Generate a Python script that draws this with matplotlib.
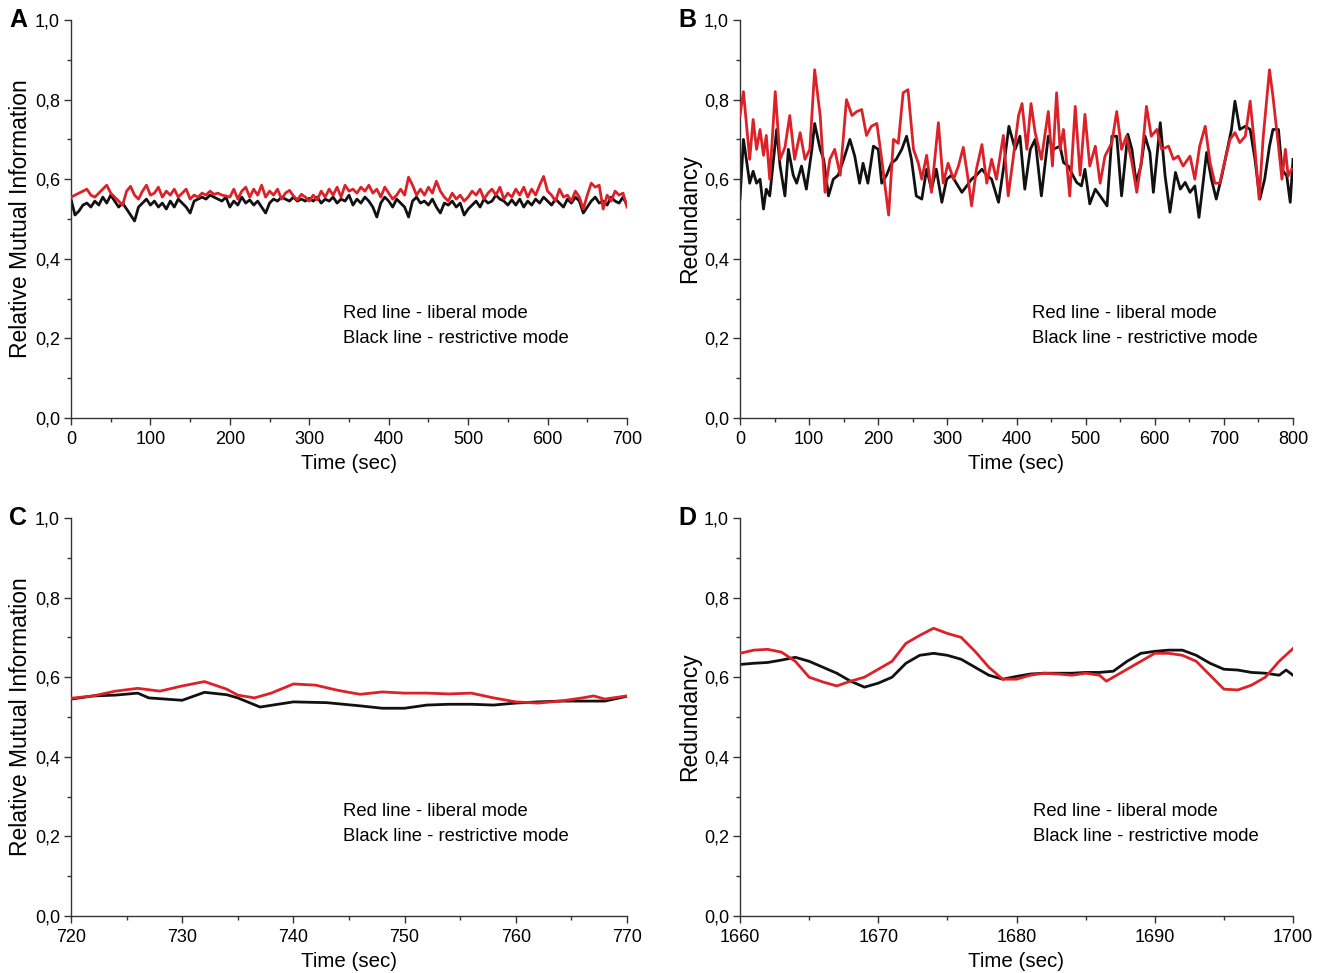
import numpy as np
import matplotlib
matplotlib.use("Agg")
import matplotlib.pyplot as plt
from matplotlib.ticker import MultipleLocator, FuncFormatter

plt.rcParams['font.family'] = ['Liberation Sans', 'DejaVu Sans']

# ---------------- Panel A data (0-700 s, step 5) ----------------
a_time = list(range(0, 705, 5))
a_red = [555, 560, 565, 570, 575, 560, 555, 565, 575, 585, 565, 555, 545, 535, 570, 582, 560, 550, 570, 585,
         560, 565, 580, 555, 570, 560, 575, 555, 565, 575, 550, 560, 555, 565, 560, 570, 562, 565, 560, 558,
         555, 575, 550, 570, 580, 555, 575, 560, 585, 555, 570, 560, 575, 550, 565, 572, 558, 548, 562, 555,
         545, 560, 548, 570, 555, 575, 560, 580, 555, 585, 570, 575, 565, 580, 570, 585, 565, 575, 555, 580,
         565, 550, 560, 575, 560, 605, 585, 560, 575, 560, 580, 565, 595, 570, 555, 545, 565, 550, 560, 545,
         555, 570, 560, 575, 550, 565, 575, 560, 580, 550, 565, 555, 575, 560, 580, 555, 575, 560, 585, 607,
         570, 560, 545, 575, 555, 560, 545, 570, 555, 525, 560, 590, 580, 585, 525, 560, 545, 570, 560, 565,
         530]
a_black = [550, 510, 520, 535, 540, 530, 545, 535, 555, 540, 560, 545, 530, 540, 525, 510, 495, 530, 540, 550,
           535, 545, 530, 540, 525, 545, 530, 550, 540, 530, 515, 545, 550, 555, 550, 560, 555, 550, 545, 555,
           530, 545, 535, 555, 540, 548, 535, 545, 530, 515, 540, 550, 545, 555, 550, 545, 555, 545, 550, 545,
           552, 545, 555, 540, 550, 545, 555, 540, 550, 545, 560, 535, 550, 540, 555, 545, 530, 505, 540, 555,
           545, 530, 550, 540, 530, 505, 545, 555, 540, 545, 535, 550, 530, 515, 540, 535, 545, 530, 540, 510,
           525, 535, 545, 530, 550, 540, 545, 560, 550, 545, 535, 548, 535, 550, 530, 545, 535, 550, 540, 555,
           545, 535, 550, 540, 530, 550, 540, 555, 545, 515, 530, 545, 555, 540, 545, 535, 555, 545, 540, 555,
           535]

# ---------------- Panel B data (0-800 s) ----------------
b_red_time = [0, 5, 14, 19, 24, 29, 34, 38, 43, 51, 58, 65, 72, 79, 87, 94, 101, 108, 116, 123,
              130, 137, 145, 154, 162, 169, 176, 183, 190, 198, 205, 215, 222, 229, 236, 243, 251, 258, 263, 270,
              277, 287, 294, 301, 309, 316, 323, 330, 335, 342, 350, 357, 364, 371, 381, 388, 395, 403, 408, 415,
              421, 427, 436, 446, 452, 458, 463, 468, 477, 485, 492, 499, 506, 514, 521, 528, 538, 545, 552, 559,
              567, 574, 581, 588, 595, 603, 610, 620, 627, 634, 641, 651, 658, 665, 673, 680, 687, 694, 702, 709,
              716, 723, 731, 738, 745, 751, 757, 766, 771, 779, 784, 789, 793, 798]
b_red = [0.76, 0.82, 0.65, 0.75, 0.675, 0.725, 0.66, 0.71, 0.60, 0.82, 0.65, 0.68, 0.76, 0.65, 0.717, 0.65, 0.675, 0.875, 0.76, 0.567,
         0.65, 0.675, 0.61, 0.80, 0.76, 0.77, 0.775, 0.71, 0.733, 0.74, 0.65, 0.51, 0.70, 0.69, 0.817, 0.825, 0.675, 0.64, 0.60, 0.66,
         0.567, 0.742, 0.59, 0.64, 0.60, 0.633, 0.68, 0.60, 0.533, 0.625, 0.687, 0.59, 0.65, 0.60, 0.71, 0.558, 0.65, 0.76, 0.79, 0.675,
         0.79, 0.717, 0.65, 0.77, 0.633, 0.817, 0.675, 0.725, 0.558, 0.783, 0.61, 0.763, 0.633, 0.683, 0.59, 0.658, 0.692, 0.77, 0.675, 0.708,
         0.642, 0.567, 0.65, 0.783, 0.708, 0.725, 0.675, 0.683, 0.65, 0.658, 0.633, 0.658, 0.60, 0.683, 0.733, 0.642, 0.59, 0.59, 0.65, 0.70,
         0.717, 0.692, 0.708, 0.796, 0.675, 0.55, 0.708, 0.875, 0.808, 0.683, 0.60, 0.675, 0.608, 0.625]
b_black_time = [0, 5, 10, 14, 19, 24, 29, 34, 38, 43, 53, 58, 65, 70, 77, 82, 89, 96, 104, 108,
                116, 121, 128, 135, 142, 150, 159, 166, 173, 178, 185, 193, 200, 205, 212, 219, 226, 234, 241, 248,
                255, 263, 270, 277, 284, 292, 299, 306, 313, 321, 328, 335, 342, 350, 357, 364, 374, 381, 389, 398,
                405, 412, 420, 427, 436, 446, 453, 463, 468, 475, 482, 487, 494, 499, 506, 514, 521, 531, 538, 545,
                552, 561, 567, 573, 580, 586, 593, 598, 608, 615, 622, 630, 637, 644, 651, 658, 664, 670, 675, 682,
                689, 697, 704, 711, 716, 723, 731, 738, 745, 752, 759, 766, 771, 779, 784, 791, 796, 800]
b_black = [0.55, 0.70, 0.64, 0.59, 0.62, 0.59, 0.60, 0.525, 0.575, 0.558, 0.725, 0.633, 0.558, 0.675, 0.61, 0.59, 0.633, 0.575, 0.675, 0.74,
           0.675, 0.65, 0.558, 0.60, 0.61, 0.65, 0.70, 0.658, 0.59, 0.64, 0.59, 0.683, 0.675, 0.59, 0.61, 0.64, 0.65, 0.675, 0.708, 0.65,
           0.558, 0.55, 0.625, 0.575, 0.625, 0.542, 0.60, 0.61, 0.59, 0.567, 0.583, 0.60, 0.61, 0.625, 0.61, 0.60, 0.542, 0.625, 0.733, 0.675,
           0.708, 0.575, 0.675, 0.70, 0.558, 0.708, 0.675, 0.683, 0.642, 0.633, 0.608, 0.592, 0.583, 0.625, 0.538, 0.575, 0.558, 0.533, 0.708, 0.708,
           0.558, 0.713, 0.675, 0.592, 0.633, 0.708, 0.667, 0.567, 0.742, 0.608, 0.517, 0.617, 0.575, 0.592, 0.567, 0.583, 0.504, 0.592, 0.667, 0.60,
           0.55, 0.608, 0.667, 0.725, 0.796, 0.725, 0.733, 0.725, 0.65, 0.55, 0.60, 0.683, 0.725, 0.725, 0.625, 0.608, 0.542, 0.65]

# ---------------- Panel C data (720-770 s) ----------------
c_red_time = [720, 722, 724, 726, 728, 730, 732, 734, 735, 736.5, 738, 740, 742, 744, 746, 748, 750, 752, 754, 756,
              758, 760, 762, 764, 766, 767, 768, 770]
c_red = [0.547, 0.553, 0.565, 0.572, 0.565, 0.578, 0.589, 0.570, 0.555, 0.548, 0.560, 0.583, 0.580, 0.567, 0.557, 0.563,
         0.560, 0.560, 0.558, 0.560, 0.548, 0.538, 0.535, 0.540, 0.548, 0.553, 0.545, 0.553]
c_black_time = [720, 722, 724, 726, 727, 730, 732, 734, 735, 737, 740, 743, 746, 748, 750, 752, 754, 756, 758, 760,
                762, 764, 766, 768, 770]
c_black = [0.545, 0.553, 0.555, 0.560, 0.548, 0.542, 0.562, 0.556, 0.548, 0.525, 0.538, 0.536, 0.528, 0.522, 0.522,
           0.530, 0.532, 0.532, 0.530, 0.535, 0.538, 0.540, 0.540, 0.540, 0.552]

# ---------------- Panel D data (1660-1700 s) ----------------
d_red_time = [1660, 1661, 1662, 1663, 1664, 1665, 1666, 1667, 1668, 1669, 1670, 1671, 1672, 1673, 1674, 1675, 1676, 1677,
              1678, 1679, 1680, 1681, 1682, 1683, 1684, 1685, 1686, 1686.5, 1687, 1688, 1689, 1690, 1691, 1692, 1693,
              1694, 1695, 1696, 1697, 1698, 1699, 1700]
d_red = [0.660, 0.668, 0.670, 0.663, 0.640, 0.600, 0.588, 0.578, 0.590, 0.600, 0.620, 0.640, 0.685, 0.705, 0.723, 0.710,
         0.700, 0.665, 0.625, 0.595, 0.595, 0.605, 0.610, 0.608, 0.605, 0.610, 0.605, 0.590, 0.600, 0.620, 0.640, 0.660,
         0.660, 0.655, 0.640, 0.605, 0.570, 0.568, 0.580, 0.600, 0.640, 0.672]
d_black_time = [1660, 1661, 1662, 1663, 1664, 1665, 1666, 1667, 1668, 1669, 1670, 1671, 1672, 1673, 1674, 1675, 1676,
                1677, 1678, 1679, 1680, 1681, 1682, 1683, 1684, 1685, 1686, 1687, 1688, 1689, 1690, 1691, 1692, 1693,
                1694, 1695, 1696, 1697, 1698, 1699, 1699.5, 1700]
d_black = [0.632, 0.635, 0.637, 0.643, 0.650, 0.640, 0.625, 0.610, 0.590, 0.575, 0.585, 0.600, 0.635, 0.655, 0.660,
           0.655, 0.645, 0.625, 0.605, 0.595, 0.602, 0.608, 0.610, 0.610, 0.610, 0.612, 0.612, 0.615, 0.640, 0.660,
           0.665, 0.668, 0.668, 0.655, 0.635, 0.620, 0.618, 0.612, 0.610, 0.605, 0.618, 0.605]

RED = '#dc2228'
BLACK = '#111111'

fig = plt.figure(figsize=(13.2, 9.73), dpi=100)

W, H = 1320, 973
def ax_at(x0, x1, ytop, ybot):
    return fig.add_axes([x0 / W, 1 - ybot / H, (x1 - x0) / W, (ybot - ytop) / H])

comma = FuncFormatter(lambda v, p: f"{v:.1f}".replace('.', ','))

panels = [
    dict(rect=(71, 627, 20, 418), letter='A', ylabel='Relative Mutual Information',
         xlim=(0, 700), xmaj=100, xmin=50,
         red=(np.array(a_time), np.array(a_red) / 1000.0),
         black=(np.array(a_time), np.array(a_black) / 1000.0), tx=342),
    dict(rect=(740, 1293, 20, 418), letter='B', ylabel='Redundancy',
         xlim=(0, 800), xmaj=100, xmin=50,
         red=(b_red_time, b_red), black=(b_black_time, b_black), tx=423),
    dict(rect=(71, 627, 518, 916), letter='C', ylabel='Relative Mutual Information',
         xlim=(720, 770), xmaj=10, xmin=5,
         red=(c_red_time, c_red), black=(c_black_time, c_black), tx=744.5),
    dict(rect=(740, 1293, 518, 916), letter='D', ylabel='Redundancy',
         xlim=(1660, 1700), xmaj=10, xmin=5,
         red=(d_red_time, d_red), black=(d_black_time, d_black), tx=1681.2),
]

for p in panels:
    x0, x1, yt, yb = p['rect']
    ax = ax_at(x0, x1, yt, yb)
    ax.plot(*p['black'], color=BLACK, lw=2.0, zorder=2)
    ax.plot(*p['red'], color=RED, lw=2.0, zorder=3)
    ax.set_xlim(*p['xlim'])
    ax.set_ylim(0, 1.0)
    for s in ('top', 'right'):
        ax.spines[s].set_visible(False)
    for s in ('left', 'bottom'):
        ax.spines[s].set_linewidth(1.0)
        ax.spines[s].set_color('#333333')
    ax.yaxis.set_major_locator(MultipleLocator(0.2))
    ax.yaxis.set_minor_locator(MultipleLocator(0.1))
    ax.yaxis.set_major_formatter(comma)
    ax.xaxis.set_major_locator(MultipleLocator(p['xmaj']))
    ax.xaxis.set_minor_locator(MultipleLocator(p['xmin']))
    ax.tick_params(which='major', direction='out', length=5, width=1.0, labelsize=13, pad=4, color='#333333')
    ax.tick_params(which='minor', direction='out', length=3, width=1.0, color='#333333')
    ax.tick_params(axis='y', which='major', pad=3)
    ax.set_ylabel(p['ylabel'], fontsize=16.5, labelpad=2)
    ax.set_xlabel('Time (sec)', fontsize=14.8, labelpad=5)
    ax.text(p['tx'], 0.262, 'Red line - liberal mode', fontsize=13.3, va='center', ha='left')
    ax.text(p['tx'], 0.200, 'Black line - restrictive mode', fontsize=13.3, va='center', ha='left')
    fig.text((x0 - 62) / W, 1 - yt / H, p['letter'], fontsize=18, fontweight='bold', va='center', ha='left')

fig.savefig('out.png', dpi=100)
